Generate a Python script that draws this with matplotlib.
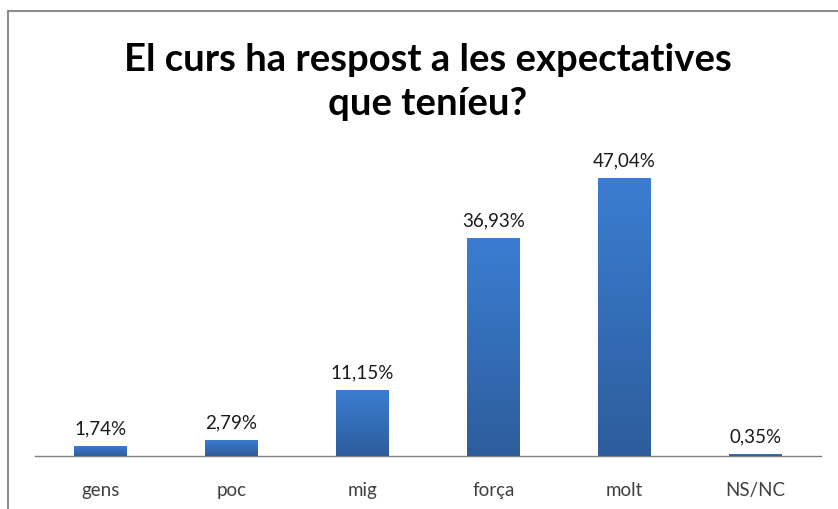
import matplotlib.pyplot as plt
import numpy as np
from matplotlib.colors import LinearSegmentedColormap
from matplotlib.patches import Rectangle

categories = ["gens", "poc", "mig", "força", "molt", "NS/NC"]
values = [1.74, 2.79, 11.15, 36.93, 47.04, 0.35]
labels = ["1,74%", "2,79%", "11,15%", "36,93%", "47,04%", "0,35%"]
title = "El curs ha respost a les expectatives\nque teníeu?"

plt.rcParams["font.family"] = ["Lato", "DejaVu Sans"]

fig = plt.figure(figsize=(8.38, 5.10), dpi=100)
fig.patch.set_facecolor("white")

# outer chart frame (cut off at right and bottom like the reference)
fig.add_artist(Rectangle((8 / 838, -0.05), 1.0, 1 - 12 / 510 + 0.05,
                         transform=fig.transFigure, fill=False,
                         edgecolor="#8c8c8c", lw=1.5))

ax = fig.add_axes([35 / 838, 53 / 510, 786 / 838, 295.5 / 510])
x = np.arange(len(categories))
bars = ax.bar(x, values, width=0.40, color="#3a74c4", zorder=2)

grad = LinearSegmentedColormap.from_list("g", ["#2d5d9c", "#3b7dd2"])
for b in bars:
    bx, by = b.get_x(), b.get_y()
    w, h = b.get_width(), b.get_height()
    im = ax.imshow(np.linspace(0, 1, 100).reshape(-1, 1), cmap=grad,
                   extent=[bx, bx + w, by, by + h], origin="lower",
                   aspect="auto", zorder=3)
    im.set_clip_path(b)

for xi, v, lab in zip(x, values, labels):
    ax.text(xi, v + 1.6, lab, ha="center", va="bottom", fontsize=13.5,
            color="#1a1a1a")

ax.set_xlim(-0.5, len(categories) - 0.5)
ax.set_ylim(0, 50)
ax.set_xticks(x)
ax.set_xticklabels(categories, fontsize=13.5, color="#404040")
ax.tick_params(axis="x", length=0, pad=18)
ax.set_yticks([])
for s in ["top", "right", "left"]:
    ax.spines[s].set_visible(False)
ax.spines["bottom"].set_color("#808080")
ax.spines["bottom"].set_linewidth(1.0)

fig.text(0.51, 0.839, title, ha="center", va="center", fontsize=27.5,
         fontweight="bold", color="black", linespacing=1.38)

fig.savefig("out.png", dpi=100)
